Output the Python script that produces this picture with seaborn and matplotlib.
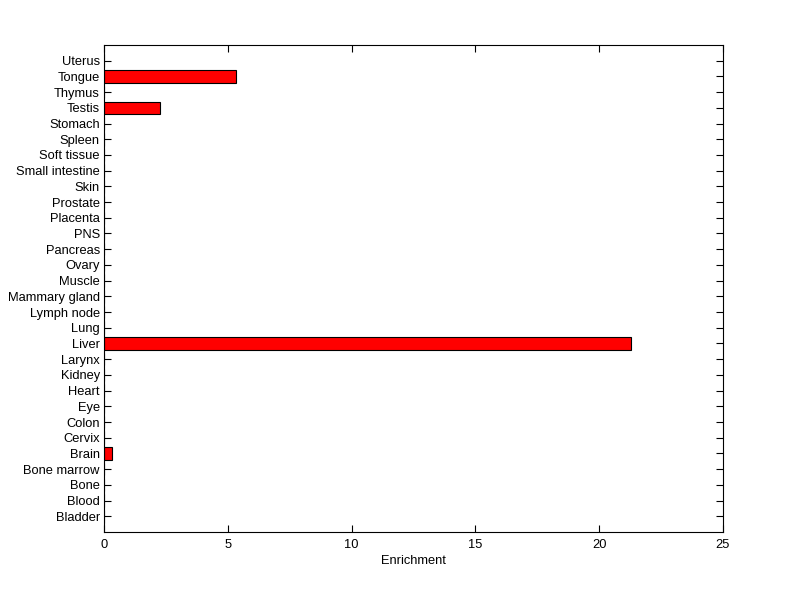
import matplotlib
matplotlib.use("Agg")
import matplotlib.pyplot as plt
import seaborn as sns
import pandas as pd

# categories listed bottom to top (as in the reference)
tissues = ["Bladder", "Blood", "Bone", "Bone marrow", "Brain", "Cervix", "Colon",
           "Eye", "Heart", "Kidney", "Larynx", "Liver", "Lung", "Lymph node",
           "Mammary gland", "Muscle", "Ovary", "Pancreas", "PNS", "Placenta",
           "Prostate", "Skin", "Small intestine", "Soft tissue", "Spleen",
           "Stomach", "Testis", "Thymus", "Tongue", "Uterus"]
enrichment = [0, 0, 0, 0, 0.32, 0, 0,
              0, 0, 0, 0, 21.28, 0, 0,
              0, 0, 0, 0, 0, 0,
              0, 0, 0, 0, 0,
              0, 2.27, 0, 5.33, 0]
xticks = [0, 5, 10, 15, 20, 25]

sns.set_style("white")
plt.rcParams['font.family'] = ['Liberation Sans', 'DejaVu Sans']
plt.rcParams['text.color'] = 'black'
plt.rcParams['axes.labelcolor'] = 'black'
plt.rcParams['xtick.color'] = 'black'
plt.rcParams['ytick.color'] = 'black'

df = pd.DataFrame({"Tissue": tissues, "Enrichment": enrichment})

fig = plt.figure(figsize=(8, 5.99), dpi=100)
ax = fig.add_axes([0.13, 0.1119, 0.77375, 0.813])

order = tissues[::-1]  # top to bottom
sns.barplot(data=df, y="Tissue", x="Enrichment", order=order, orient="h",
            color="#ff0000", saturation=1, width=0.8,
            edgecolor="black", linewidth=0.8, ax=ax)

ax.set_xlim(0, 25)
ax.set_ylim(len(tissues), -1)
ax.set_xticks(xticks)
ax.set_xticklabels([str(t) for t in xticks])
ax.set_xlabel("Enrichment", fontsize=9.3, labelpad=3, color="black")
ax.set_ylabel("")
ax.tick_params(axis="both", direction="in", length=5, width=0.8,
               top=True, right=True, bottom=True, left=True,
               labelsize=9.3, pad=5, color="black", labelcolor="black")
ax.tick_params(axis="y", pad=3)
for s in ax.spines.values():
    s.set_visible(True)
    s.set_color("black")
    s.set_linewidth(0.8)

fig.savefig("out.png", dpi=100)
